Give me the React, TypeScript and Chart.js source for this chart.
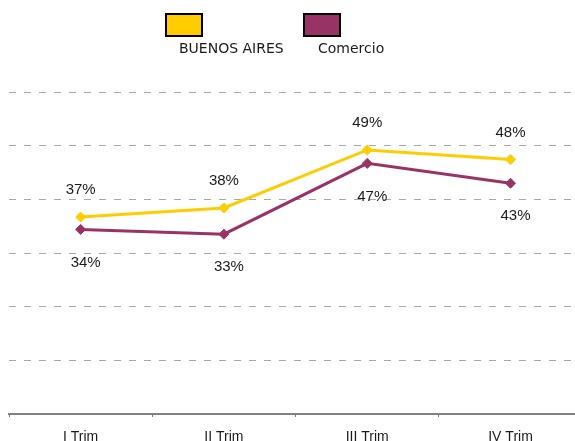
import React, { useEffect, useRef } from "react";
import { Chart, registerables } from "chart.js";

Chart.register(...registerables);

const categories = ["I Trim", "II Trim", "III Trim", "IV Trim"];
const seriesNames = ["BUENOS AIRES", "Comercio"];
const buenosAires = [36.7, 38.4, 49.2, 47.4];
const comercio = [34.4, 33.5, 46.7, 43.0];
const buenosAiresLabels = ["37%", "38%", "49%", "48%"];
const comercioLabels = ["34%", "33%", "47%", "43%"];
const yTicks = [0, 10, 20, 30, 40, 50, 60];

const YELLOW = "#FFCC00";
const PURPLE = "#993366";
const FONT = "'Liberation Sans', Arial, sans-serif";
const LEGEND_FONT = "'DejaVu Sans', sans-serif";

const pctLabels = {
  id: "pctLabels",
  afterDatasetsDraw(chart: any) {
    const ctx = chart.ctx;
    ctx.save();
    ctx.font = `15px ${FONT}`;
    ctx.fillStyle = "#1a1a1a";
    ctx.textAlign = "center";
    ctx.textBaseline = "middle";
    chart.data.datasets.forEach((ds: any, di: number) => {
      const meta = chart.getDatasetMeta(di);
      const labels = di === 0 ? buenosAiresLabels : comercioLabels;
      const dx = di === 0 ? 0 : 5;
      const dy = di === 0 ? -27 : 33;
      meta.data.forEach((pt: any, i: number) => {
        ctx.fillText(labels[i], pt.x + dx, pt.y + dy);
      });
    });
    ctx.restore();
  },
};

// tick positions on the category axis: boundaries (half steps) get tick marks, integers get labels
const xTickValues = [-0.5, 0, 0.5, 1, 1.5, 2, 2.5, 3];

export default function App() {
  const ref = useRef<HTMLCanvasElement | null>(null);
  useEffect(() => {
    if (!ref.current) return;
    const mk = (name: string, values: number[], color: string) => ({
      label: name,
      data: values.map((v, i) => ({ x: i, y: v })),
      borderColor: color,
      backgroundColor: color,
      borderWidth: 3,
      pointStyle: "rectRot",
      pointRadius: 5,
      pointBorderWidth: 1,
      pointBackgroundColor: color,
      pointBorderColor: color,
    });
    const chart = new Chart(ref.current, {
      type: "line",
      data: {
        datasets: [
          mk(seriesNames[0], buenosAires, YELLOW),
          mk(seriesNames[1], comercio, PURPLE),
        ],
      },
      options: {
        responsive: false,
        animation: false,
        devicePixelRatio: 1,
        layout: { autoPadding: false, padding: { left: 9, right: 0, top: 92, bottom: 0 } },
        plugins: { legend: { display: false }, tooltip: { enabled: false } },
        scales: {
          x: {
            type: "linear",
            position: "bottom",
            min: -0.5,
            max: 3.45,
            afterBuildTicks: (scale: any) => {
              scale.ticks = xTickValues.map((v) => ({ value: v }));
            },
            afterFit: (scale: any) => {
              scale.height = 27;
              scale.paddingLeft = 0;
              scale.paddingRight = 0;
            },
            ticks: {
              autoSkip: false,
              maxRotation: 0,
              padding: 12,
              color: "#1a1a1a",
              font: { family: FONT, size: 14 },
              callback: (value: any) =>
                Number.isInteger(value) ? categories[value] : "",
            },
            grid: {
              drawOnChartArea: false,
              tickLength: 3,
              lineWidth: 1,
              color: (c: any) =>
                c.tick && !Number.isInteger(c.tick.value) ? "#777" : "rgba(0,0,0,0)",
            },
            border: { display: true, color: "#808080", width: 2 },
          },
          y: {
            type: "linear",
            min: yTicks[0],
            max: yTicks[yTicks.length - 1],
            afterBuildTicks: (scale: any) => {
              scale.ticks = yTicks.map((v) => ({ value: v }));
            },
            afterFit: (scale: any) => {
              scale.width = 0;
            },
            ticks: { display: false },
            border: { display: false, dash: [7, 8] },
            grid: {
              drawTicks: false,
              color: (c: any) =>
                c.tick && c.tick.value === 0 ? "rgba(0,0,0,0)" : "#a8a8a8",
              lineWidth: 1,
            },
          },
        },
      },
      plugins: [pctLabels],
    } as any);
    return () => chart.destroy();
  }, []);

  const legendText: React.CSSProperties = {
    position: "absolute",
    font: `14px ${LEGEND_FONT}`,
    lineHeight: "14px",
    color: "#1a1a1a",
    whiteSpace: "nowrap",
  };
  const box = (left: number, color: string): React.CSSProperties => ({
    position: "absolute",
    left,
    top: 13,
    width: 38,
    height: 24,
    boxSizing: "border-box",
    border: "2px solid #000",
    background: color,
  });

  return (
    <div style={{ position: "absolute", left: 0, top: 0, width: 575, height: 441, background: "#fff", overflow: "hidden" }}>
      <canvas ref={ref} width={575} height={441} style={{ display: "block", width: 575, height: 441 }} />
      <div style={box(165, YELLOW)} />
      <div style={{ ...legendText, left: 179, top: 40.5 }}>{seriesNames[0]}</div>
      <div style={box(303, PURPLE)} />
      <div style={{ ...legendText, left: 318, top: 40.5 }}>{seriesNames[1]}</div>
    </div>
  );
}
